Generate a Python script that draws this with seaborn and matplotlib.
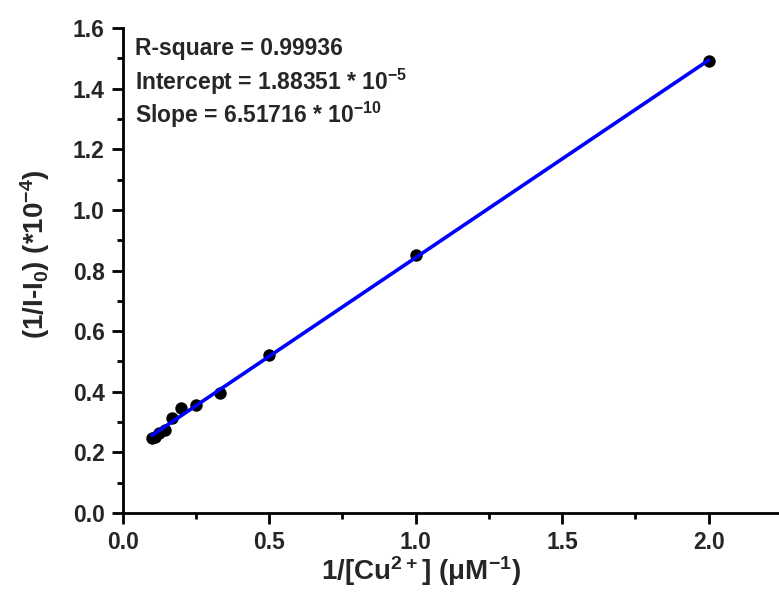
import numpy as np
import pandas as pd
import matplotlib
matplotlib.use("Agg")
import matplotlib.pyplot as plt
import seaborn as sns
from matplotlib.ticker import MultipleLocator, FormatStrFormatter

# 1/[Cu2+] (uM^-1) and 1/(I-I0) (*10^-4)
inv_cu = [0.1, 0.111, 0.125, 0.143, 0.167, 0.2, 0.25, 0.333, 0.5, 1.0, 2.0]
inv_dI = [0.248, 0.252, 0.265, 0.275, 0.313, 0.345, 0.357, 0.396, 0.52, 0.85, 1.49]

fit_lines = [
    "R-square = 0.99936",
    r"Intercept = 1.88351 * 10$^{-5}$",
    r"Slope = 6.51716 * 10$^{-10}$",
]

df = pd.DataFrame({"x": inv_cu, "y": inv_dI})

sns.set_style("ticks")
plt.rcParams["font.family"] = ["Liberation Sans", "DejaVu Sans"]
plt.rcParams["font.weight"] = "bold"
plt.rcParams["mathtext.default"] = "regular"

fig = plt.figure(figsize=(7.79, 6.12), dpi=100)
ax = fig.add_axes([0.1575, 0.162, 0.8425, 0.792])

sns.regplot(data=df, x="x", y="y", ax=ax, ci=None,
            scatter_kws=dict(color="black", s=80, alpha=1, linewidths=0, zorder=2),
            line_kws=dict(color="#0000ff", lw=2.6, zorder=3))

ax.set_xlim(0, 2.24)
ax.set_ylim(0, 1.6)
ax.xaxis.set_major_locator(MultipleLocator(0.5))
ax.xaxis.set_minor_locator(MultipleLocator(0.25))
ax.yaxis.set_major_locator(MultipleLocator(0.2))
ax.yaxis.set_minor_locator(MultipleLocator(0.1))
ax.xaxis.set_major_formatter(FormatStrFormatter("%.1f"))
ax.yaxis.set_major_formatter(FormatStrFormatter("%.1f"))

sns.despine(ax=ax)
for s in ["left", "bottom"]:
    ax.spines[s].set_linewidth(2.0)
    ax.spines[s].set_color("black")
ax.tick_params(which="major", direction="out", length=8, width=2.0,
               labelsize=16.5, color="black", pad=5)
ax.tick_params(which="minor", direction="out", length=4, width=2.0, color="black")
for lab in ax.get_xticklabels() + ax.get_yticklabels():
    lab.set_fontweight("bold")

ax.set_xlabel(r"1/[Cu$^{2+}$] ($\mu$M$^{-1}$)", fontsize=20, fontweight="bold")
ax.set_ylabel(r"(1/I-I$_0$) (*10$^{-4}$)", fontsize=20, fontweight="bold")
ax.xaxis.set_label_coords(0.455, -0.085)
ax.yaxis.set_label_coords(-0.108, 0.534)

for i, t in enumerate(fit_lines):
    ax.text(0.019, 0.959 - i * 0.069, t, transform=ax.transAxes,
            fontsize=16.5, fontweight="bold", va="center", ha="left")

fig.savefig("out.png", dpi=100)
